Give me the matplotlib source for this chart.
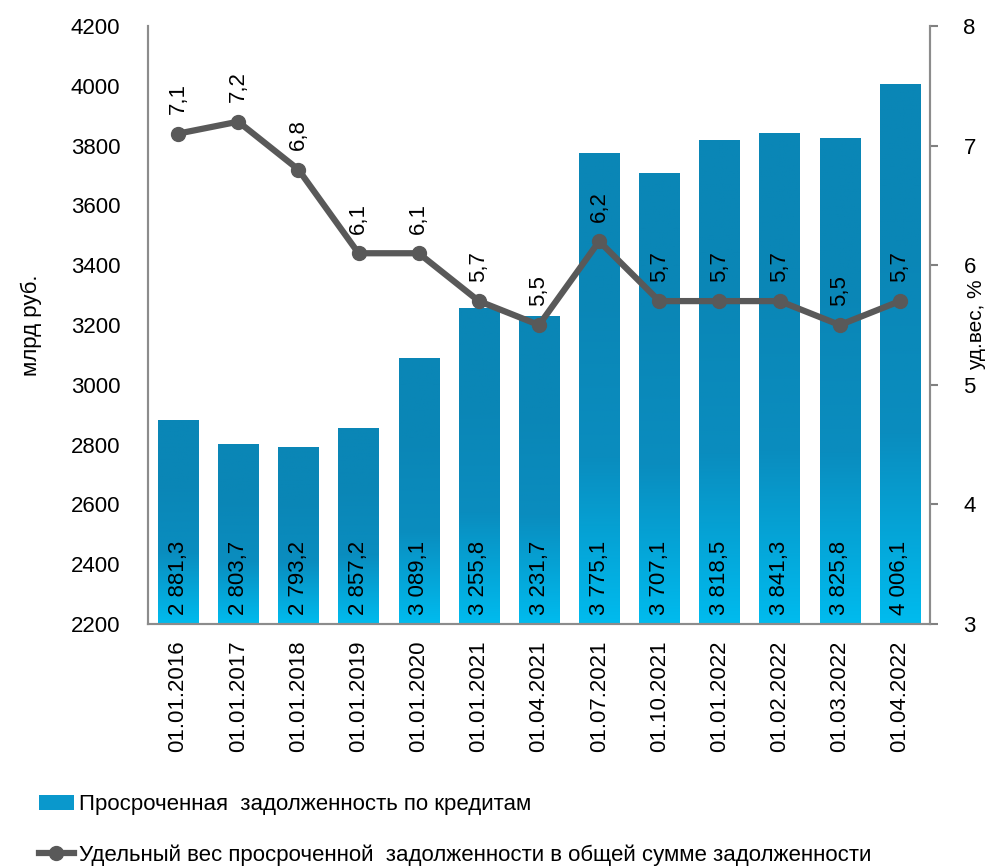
import numpy as np
import matplotlib.pyplot as plt
from matplotlib.colors import LinearSegmentedColormap
from matplotlib.lines import Line2D
from matplotlib.patches import Patch

plt.rcParams['font.family'] = ['Liberation Sans Narrow', 'Liberation Sans', 'DejaVu Sans']

dates = ['01.01.2016', '01.01.2017', '01.01.2018', '01.01.2019', '01.01.2020',
         '01.01.2021', '01.04.2021', '01.07.2021', '01.10.2021', '01.01.2022',
         '01.02.2022', '01.03.2022', '01.04.2022']
overdue = [2881.3, 2803.7, 2793.2, 2857.2, 3089.1, 3255.8, 3231.7,
           3775.1, 3707.1, 3818.5, 3841.3, 3825.8, 4006.1]
share = [7.1, 7.2, 6.8, 6.1, 6.1, 5.7, 5.5, 6.2, 5.7, 5.7, 5.7, 5.5, 5.7]

def fmt_num(v):
    s = f"{v:,.1f}".replace(',', ' ').replace('.', ',')
    return s

fig = plt.figure(figsize=(9.93, 8.66), dpi=100)
ax = fig.add_axes([0.149, 0.2794, 0.7876, 0.6906])
ax2 = ax.twinx()

x = np.arange(len(dates))
w = 0.67
ymin = 2200
cmap = LinearSegmentedColormap.from_list('g', ['#0a86b6', '#0a8dbf', '#00bbee'])
grad = np.linspace(0, 1, 256).reshape(-1, 1)
grad = np.clip((grad - 0.3) / 0.7, 0, 1)

bars = ax.bar(x, np.array(overdue) - ymin, bottom=ymin, width=w, color='none', edgecolor='none')
for b, v in zip(bars, overdue):
    im = ax.imshow(grad, extent=[b.get_x(), b.get_x() + w, ymin, v], aspect='auto',
                   cmap=cmap, origin='upper', zorder=1)
    im.set_clip_path(b)
    ax.text(b.get_x() + w / 2, ymin + 30, fmt_num(v), rotation=90, ha='center', va='bottom',
            fontsize=16, color='black', zorder=3)

ax.set_xlim(-0.5, len(dates) - 0.5)
ax.set_ylim(2200, 4200)
ax.set_yticks(np.arange(2200, 4201, 200))
ax.set_xticks(x)
ax.set_xticklabels(dates, rotation=90, fontsize=16)
ax.tick_params(axis='y', length=0, labelsize=16, pad=20)
ax.tick_params(axis='x', length=0, pad=12)
ax.set_ylabel('млрд руб.', fontsize=16)
ax.yaxis.set_label_coords(-0.135, 0.5)

ax2.plot(x, share, color='#595959', lw=4.5, marker='o', markersize=10, zorder=5)
for xi, s in zip(x, share):
    ax2.annotate(f"{s:.1f}".replace('.', ','), (xi, s), xytext=(0, 14), textcoords='offset points',
                 rotation=90, ha='center', va='bottom', fontsize=16)
ax2.set_ylim(3, 8)
ax2.set_yticks(np.arange(3, 9, 1))
ax2.tick_params(axis='y', direction='out', length=6, color='#808080', width=1.5, labelsize=16, pad=18)
ax2.set_ylabel('уд.вес, %', fontsize=15)
ax2.yaxis.set_label_coords(1.047, 0.5)
ax2.set_xlim(-0.5, len(dates) - 0.5)

for a in (ax, ax2):
    a.spines['top'].set_visible(False)
    for s in ('left', 'right', 'bottom'):
        a.spines[s].set_color('#8c8c8c')
        a.spines[s].set_linewidth(1.5)
ax2.set_zorder(ax.get_zorder() + 1)
ax2.patch.set_visible(False)

handles = [Patch(facecolor='#0a98cc', edgecolor='none'),
           Line2D([0], [0], color='#595959', lw=4.5, marker='o', markersize=10)]
labels = ['Просроченная  задолженность по кредитам',
          'Удельный вес просроченной  задолженности в общей сумме задолженности']
fig.legend(handles, labels, loc='lower left', bbox_to_anchor=(0.03, -0.01), frameon=False,
           fontsize=16, labelspacing=1.3, handlelength=1.6, handletextpad=0.2, borderaxespad=0)

fig.savefig('out.png', dpi=100)
